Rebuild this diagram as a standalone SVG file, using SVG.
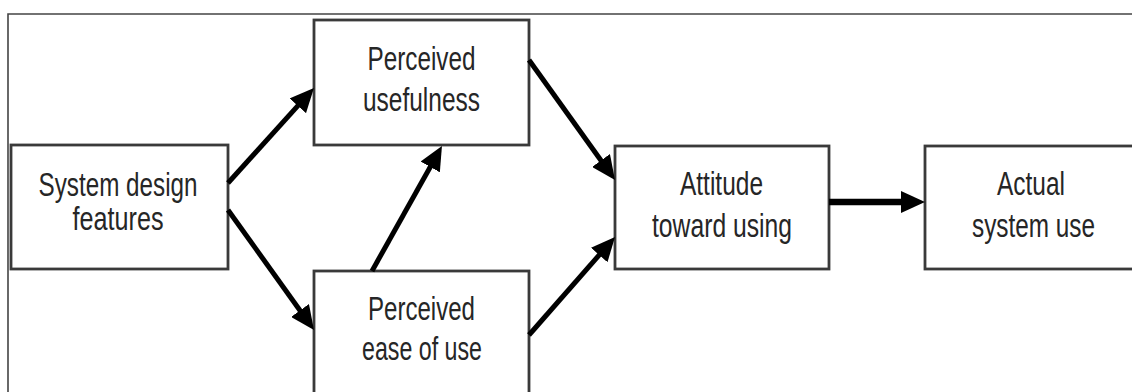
<svg xmlns="http://www.w3.org/2000/svg" width="1132" height="392" viewBox="0 0 1132 392">
  <style>
    .box { fill: #ffffff; stroke: #3a3a3a; stroke-width: 2.8; }
    .lbl { font-family: "Liberation Sans", Arial, sans-serif; font-size: 33px; fill: #262626; text-anchor: middle; }
    .conn { stroke: #000000; stroke-width: 5; fill: none; marker-end: url(#arrow); }
    .frame { stroke: #444444; stroke-width: 1.6; fill: none; }
  </style>
  <defs>
    <marker id="arrow" markerUnits="userSpaceOnUse" viewBox="0 0 24 22" markerWidth="24" markerHeight="22" refX="12" refY="11" orient="auto">
      <path d="M0,0 L24,11 L0,22 z" fill="#000000"/>
    </marker>
  </defs>
  <rect x="0" y="0" width="1132" height="392" fill="#ffffff"/>
  <path class="frame" d="M8,392 L8,14 L1132,14"/>

  <g id="system-design">
    <rect class="box" x="11" y="145" width="217" height="124"/>
    <text class="lbl" x="118" y="196" textLength="159" lengthAdjust="spacingAndGlyphs">System design</text>
    <text class="lbl" x="118" y="230" textLength="91" lengthAdjust="spacingAndGlyphs">features</text>
  </g>
  <g id="perceived-usefulness">
    <rect class="box" x="314" y="20" width="215" height="125"/>
    <text class="lbl" x="421.5" y="70" textLength="108" lengthAdjust="spacingAndGlyphs">Perceived</text>
    <text class="lbl" x="421.5" y="111" textLength="117" lengthAdjust="spacingAndGlyphs">usefulness</text>
  </g>
  <g id="perceived-ease">
    <rect class="box" x="314" y="271" width="215" height="140"/>
    <text class="lbl" x="421.5" y="320" textLength="107" lengthAdjust="spacingAndGlyphs">Perceived</text>
    <text class="lbl" x="422" y="360" textLength="120" lengthAdjust="spacingAndGlyphs">ease of use</text>
  </g>
  <g id="attitude">
    <rect class="box" x="615" y="146" width="214" height="123"/>
    <text class="lbl" x="721.5" y="195" textLength="83" lengthAdjust="spacingAndGlyphs">Attitude</text>
    <text class="lbl" x="722" y="237" textLength="140" lengthAdjust="spacingAndGlyphs">toward using</text>
  </g>
  <g id="actual-use">
    <rect class="box" x="925" y="146" width="210" height="123"/>
    <text class="lbl" x="1031" y="195" textLength="68" lengthAdjust="spacingAndGlyphs">Actual</text>
    <text class="lbl" x="1033.5" y="237" textLength="123" lengthAdjust="spacingAndGlyphs">system use</text>
  </g>

  <g id="connectors">
    <line class="conn" x1="228" y1="183" x2="305.9" y2="96.9"/>
    <line class="conn" x1="228" y1="210" x2="307" y2="320.2"/>
    <line class="conn" x1="372" y1="271" x2="436.1" y2="156.5"/>
    <line class="conn" x1="529" y1="60" x2="608" y2="170.2"/>
    <line class="conn" x1="529" y1="335" x2="607.1" y2="246"/>
    <line class="conn" style="stroke-width:6.5" x1="829" y1="202" x2="913" y2="202"/>
  </g>
</svg>
